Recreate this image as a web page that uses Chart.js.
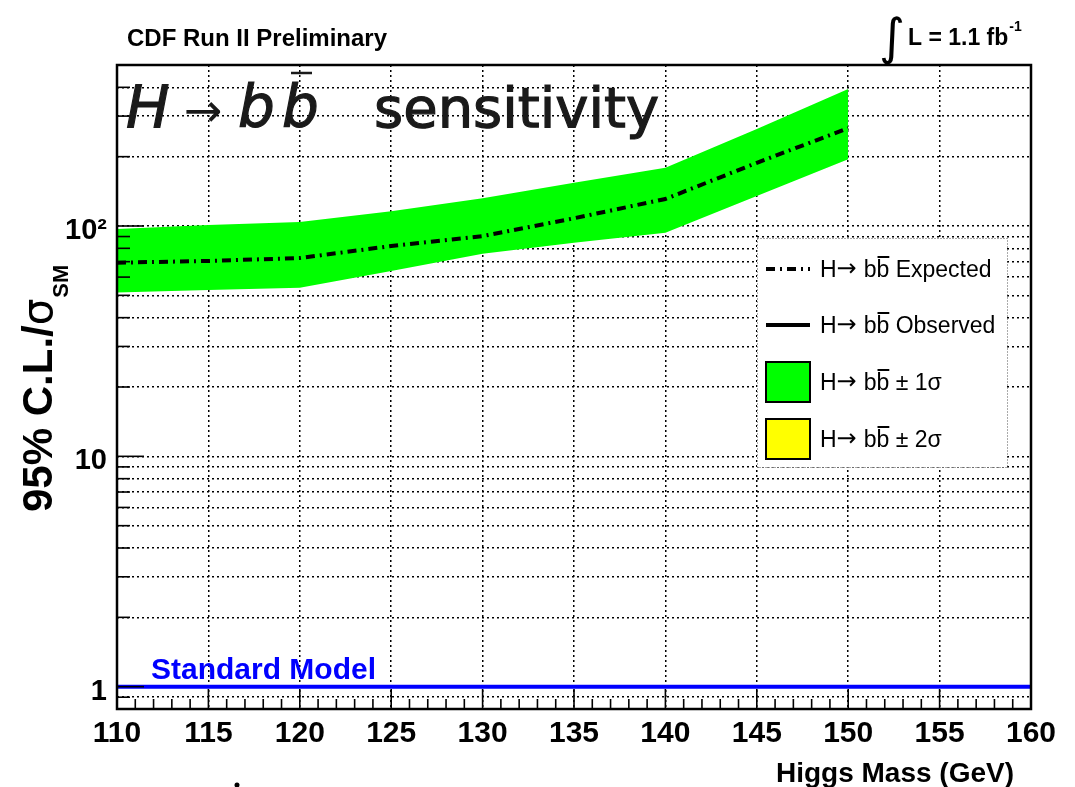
<!DOCTYPE html>
<html>
<head>
<meta charset="utf-8">
<script src="https://cdn.jsdelivr.net/npm/chart.js@4.4.1/dist/chart.umd.min.js"></script>
<style>
    html, body { margin: 0; padding: 0; background: #fff; overflow: hidden; }
    #wrap { position: relative; width: 1075px; height: 787px; }
</style>
</head>
<body>
<div id="wrap"><canvas id="limitChart" width="1075" height="787"></canvas></div>
<script>
// Higgs masses (GeV) where the limits were computed
const masses = [110, 115, 120, 125, 130, 135, 140, 145, 150];
// expected 95% CL limit / sigma_SM
const expected = [69.3, 70.5, 72.6, 81.9, 90.4, 108, 131, 188, 266];
// +-1 sigma band
const band1Up = [97, 101, 104, 116, 132, 154, 179, 264, 393];
const band1Down = [51.4, 52.8, 53.9, 63.8, 75.7, 84.5, 93.4, 135, 195];
// Standard Model reference line
const smMasses = [110, 160];
const smLevel = [1, 1];

const xTicks = [110, 115, 120, 125, 130, 135, 140, 145, 150, 155, 160];
const xMinorTicks = [];
for (let m = 110; m <= 160; m++) xMinorTicks.push(m);
const yGrid = [0.8, 0.9, 1, 2, 3, 4, 5, 6, 7, 8, 9, 10, 20, 30, 40, 50, 60, 70, 80, 90, 100, 200, 300, 400, 500];
const yLabels = { 1: '1', 10: '10', 100: '10\u00B2' };

const legendItems = [
    { label: 'Expected', kind: 'dashdot' },
    { label: 'Observed', kind: 'solid' },
    { label: '\u00B1 1\u03C3', kind: 'box', color: '#00ff00' },
    { label: '\u00B1 2\u03C3', kind: 'box', color: '#ffff00' }
];

const SANS = '"Liberation Sans", Arial, Helvetica, sans-serif';

function pts(xs, ys) {
    return xs.map((x, i) => ({ x: x, y: ys[i] }));
}

// writes "H→ bb̄" and returns x after it
function drawHbb(ctx, x, y) {
    ctx.font = '23px ' + SANS;
    ctx.fillText('H', x, y);
    let cx = x + ctx.measureText('H').width;
    ctx.font = '24px "DejaVu Sans"';
    ctx.fillText('\u2192', cx, y - 1);
    cx += ctx.measureText('\u2192').width + 7;
    ctx.font = '23px ' + SANS;
    const wb = ctx.measureText('b').width;
    ctx.fillText('b', cx, y);
    cx += wb;
    ctx.fillText('b', cx, y);
    ctx.save();
    ctx.lineWidth = 2;
    ctx.beginPath();
    ctx.moveTo(cx + 1, y - 20);
    ctx.lineTo(cx + wb, y - 20);
    ctx.stroke();
    ctx.restore();
    return cx + wb;
}

const decorPlugin = {
    id: 'decor',
    afterDraw(chart) {
        const ctx = chart.ctx;
        const area = chart.chartArea;
        const xs = chart.scales.x;
        const ys = chart.scales.y;
        ctx.save();

        // tick marks inside the frame
        ctx.strokeStyle = '#000';
        ctx.lineWidth = 1.6;
        ctx.setLineDash([]);
        xMinorTicks.forEach(m => {
            const px = xs.getPixelForValue(m);
            const len = (m % 5 === 0) ? 20 : 10;
            ctx.beginPath();
            ctx.moveTo(px, area.bottom);
            ctx.lineTo(px, area.bottom - len);
            ctx.stroke();
        });
        yGrid.forEach(v => {
            const py = ys.getPixelForValue(v);
            const len = yLabels[v] ? 27 : 13;
            ctx.beginPath();
            ctx.moveTo(area.left, py);
            ctx.lineTo(area.left + len, py);
            ctx.stroke();
        });

        // frame
        ctx.lineWidth = 2.5;
        ctx.strokeRect(area.left, area.top, area.right - area.left, area.bottom - area.top);

        // handwritten title
        ctx.fillStyle = '#1a1a1a';
        ctx.strokeStyle = '#1a1a1a';
        ctx.lineWidth = 1.2;
        ctx.font = 'italic 58px "DejaVu Sans"';
        ctx.fillText('H', 126, 127);
        ctx.strokeText('H', 126, 127);
        ctx.font = '46px "DejaVu Sans"';
        ctx.fillText('\u2192', 184, 126);
        ctx.font = 'italic 58px "DejaVu Sans"';
        ctx.fillText('b', 238, 127);
        ctx.fillText('b', 282, 127);
        ctx.strokeText('b', 238, 127);
        ctx.strokeText('b', 282, 127);
        ctx.lineWidth = 2.5;
        ctx.beginPath();
        ctx.moveTo(291, 73);
        ctx.lineTo(312, 73);
        ctx.stroke();
        ctx.font = '56px "DejaVu Sans"';
        ctx.lineWidth = 1.2;
        ctx.fillText('sensitivity', 374, 127);
        ctx.strokeText('sensitivity', 374, 127);

        // header texts
        ctx.fillStyle = '#000';
        ctx.strokeStyle = '#000';
        ctx.font = 'bold 24px ' + SANS;
        ctx.fillText('CDF Run II Preliminary', 127, 46);
        ctx.font = '50px "DejaVu Sans"';
        ctx.fillText('\u222B', 879, 54);
        ctx.font = 'bold 23px ' + SANS;
        ctx.fillText('L = 1.1 fb', 908, 45);
        const wL = ctx.measureText('L = 1.1 fb').width;
        ctx.font = 'bold 14px ' + SANS;
        ctx.fillText('-1', 908 + wL + 1, 31);

        // Standard Model label
        ctx.fillStyle = '#0000ff';
        ctx.font = 'bold 30px ' + SANS;
        ctx.fillText('Standard Model', 151, 679);

        // axis titles
        ctx.fillStyle = '#000';
        ctx.font = 'bold 28px ' + SANS;
        ctx.textAlign = 'right';
        ctx.fillText('Higgs Mass (GeV)', 1014, 782);
        ctx.textAlign = 'left';

        ctx.save();
        ctx.translate(52, 512);
        ctx.rotate(-Math.PI / 2);
        ctx.font = 'bold 42px ' + SANS;
        ctx.fillText('95% C.L./', 0, 0);
        let wMain = ctx.measureText('95% C.L./').width;
        ctx.font = '42px "DejaVu Sans"';
        ctx.fillText('\u03C3', wMain, 0);
        wMain += ctx.measureText('\u03C3').width;
        ctx.font = 'bold 22px ' + SANS;
        ctx.fillText('SM', wMain + 1, 16);
        ctx.restore();

        // legend
        const lx = 757, ly = 238, lw = 250, lh = 229;
        ctx.fillStyle = '#fff';
        ctx.fillRect(lx, ly, lw, lh);
        ctx.strokeStyle = '#555';
        ctx.lineWidth = 1;
        ctx.setLineDash([1, 2]);
        ctx.strokeRect(lx + 0.5, ly + 0.5, lw, lh);
        ctx.setLineDash([]);

        const rowBase = [277, 333, 390, 447];
        legendItems.forEach((item, i) => {
            const yb = rowBase[i];
            const yc = yb - 8;
            ctx.strokeStyle = '#000';
            if (item.kind === 'dashdot') {
                ctx.lineWidth = 4;
                ctx.setLineDash([9, 5, 2, 5]);
                ctx.beginPath();
                ctx.moveTo(766, yc);
                ctx.lineTo(810, yc);
                ctx.stroke();
                ctx.setLineDash([]);
            } else if (item.kind === 'solid') {
                ctx.lineWidth = 4;
                ctx.beginPath();
                ctx.moveTo(766, yc);
                ctx.lineTo(810, yc);
                ctx.stroke();
            } else {
                ctx.fillStyle = item.color;
                ctx.fillRect(766, yc - 20, 44, 40);
                ctx.lineWidth = 2;
                ctx.strokeRect(766, yc - 20, 44, 40);
            }
            ctx.fillStyle = '#000';
            const xe = drawHbb(ctx, 820, yb);
            ctx.font = '23px ' + SANS;
            ctx.fillText(' ' + item.label, xe, yb);
        });

        // small stray dot below the axis
        ctx.fillStyle = '#000';
        ctx.beginPath();
        ctx.arc(237, 785, 2.5, 0, Math.PI * 2);
        ctx.fill();

        ctx.restore();
    }
};

function initChart() {
    const ctx = document.getElementById('limitChart').getContext('2d');

    new Chart(ctx, {
        type: 'line',
        data: {
            datasets: [
                {
                    label: 'Expected',
                    data: pts(masses, expected),
                    borderColor: '#000',
                    borderWidth: 4,
                    borderDash: [9, 5, 2, 5],
                    pointRadius: 0,
                    fill: false,
                    order: 0
                },
                {
                    label: 'Standard Model',
                    data: pts(smMasses, smLevel),
                    borderColor: '#0000ff',
                    borderWidth: 4,
                    pointRadius: 0,
                    fill: false,
                    order: 1
                },
                {
                    label: '+1 sigma',
                    data: pts(masses, band1Up),
                    borderWidth: 0,
                    borderColor: 'rgba(0,0,0,0)',
                    backgroundColor: '#00ff00',
                    pointRadius: 0,
                    fill: '+1',
                    order: 2
                },
                {
                    label: '-1 sigma',
                    data: pts(masses, band1Down),
                    borderWidth: 0,
                    borderColor: 'rgba(0,0,0,0)',
                    pointRadius: 0,
                    fill: false,
                    order: 3
                }
            ]
        },
        options: {
            responsive: false,
            animation: false,
            layout: {
                padding: { left: 0, top: 65, right: 44, bottom: 0 }
            },
            plugins: {
                legend: { display: false },
                tooltip: { enabled: false }
            },
            scales: {
                x: {
                    type: 'linear',
                    min: 110,
                    max: 160,
                    z: 1,
                    afterFit: function(scale) { scale.height = 78; },
                    afterBuildTicks: function(scale) {
                        scale.ticks = xTicks.map(v => ({ value: v }));
                    },
                    grid: {
                        color: '#000',
                        lineWidth: 1.5,
                        drawTicks: false
                    },
                    border: { display: false, dash: [2, 3] },
                    ticks: {
                        autoSkip: false,
                        maxRotation: 0,
                        padding: 7,
                        color: '#000',
                        font: { family: SANS, size: 30, weight: 'bold' },
                        callback: function(value) { return String(value); }
                    }
                },
                y: {
                    type: 'logarithmic',
                    min: 0.8,
                    max: 500,
                    z: 1,
                    afterFit: function(scale) { scale.width = 117; },
                    afterBuildTicks: function(scale) {
                        scale.ticks = yGrid.map(v => ({ value: v }));
                    },
                    grid: {
                        color: '#000',
                        lineWidth: 1.5,
                        drawTicks: false
                    },
                    border: { display: false, dash: [2, 3] },
                    ticks: {
                        autoSkip: false,
                        padding: 10,
                        labelOffset: 5,
                        color: '#000',
                        font: { family: SANS, size: 29, weight: 'bold' },
                        callback: function(value) { return yLabels[value] || ''; }
                    }
                }
            }
        },
        plugins: [decorPlugin]
    });
}

document.addEventListener('DOMContentLoaded', () => {
    initChart();
});
</script>
</body>
</html>
